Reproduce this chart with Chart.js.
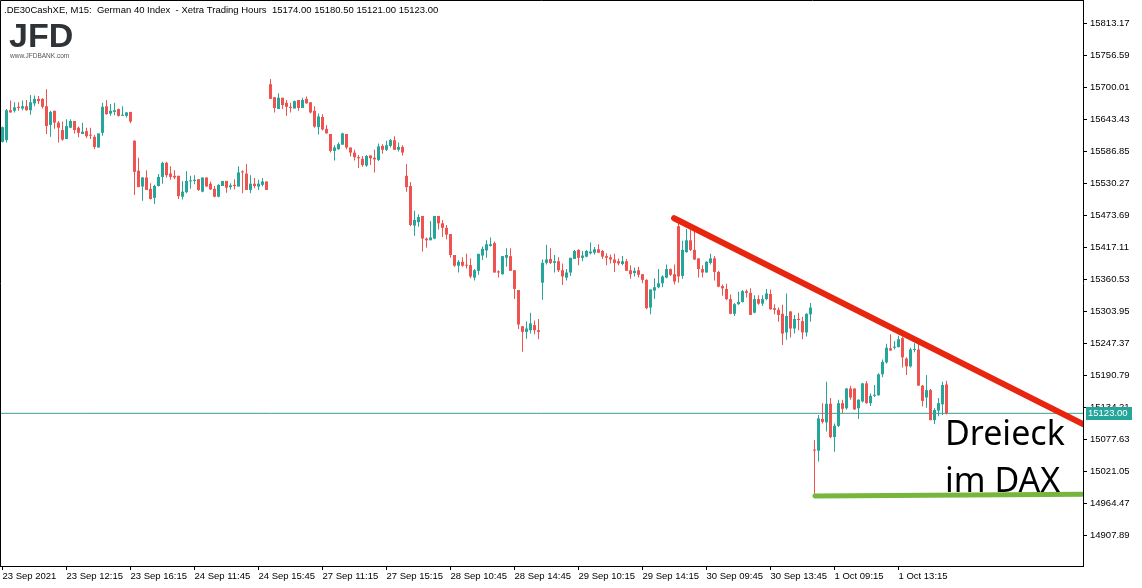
<!DOCTYPE html>
<html>
<head>
<meta charset="utf-8">
<title>DAX M15</title>
<script src="https://cdn.jsdelivr.net/npm/chart.js@4.4.0/dist/chart.umd.min.js"></script>
<style>
html, body { margin: 0; padding: 0; background: #fff; }
#chart { display: block; }
</style>
</head>
<body>
<canvas id="chart" width="1142" height="588"></canvas>
<script>
// DATA
const timeLabels = ['23 Sep 2021', '23 Sep 12:15', '23 Sep 16:15', '24 Sep 11:45', '24 Sep 15:45',
    '27 Sep 11:15', '27 Sep 15:15', '28 Sep 10:45', '28 Sep 14:45', '29 Sep 10:15',
    '29 Sep 14:15', '30 Sep 09:45', '30 Sep 13:45', '1 Oct 09:15', '1 Oct 13:15'];
const timeTickBars = [0, 16, 32, 48, 64, 80, 96, 112, 128, 144, 160, 176, 192, 208, 224];
const priceTicks = [15813.17, 15756.59, 15700.01, 15643.43, 15586.85, 15530.27, 15473.69, 15417.11,
    15360.53, 15303.95, 15247.37, 15190.79, 15134.21, 15077.63, 15021.05, 14964.47, 14907.89];

const opens = [
    15603, 15606, 15659, 15658, 15665, 15662, 15666, 15659, 15671, 15679, 15679, 15666, 15633, 15658, 15637, 15624,
    15608, 15628, 15640, 15628, 15617, 15622, 15615, 15612, 15593, 15619, 15666, 15653, 15656, 15661, 15649, 15649,
    15656, 15605, 15552, 15524, 15540, 15520, 15504, 15525, 15541, 15566, 15547, 15543, 15543, 15506, 15514, 15533,
    15534, 15537, 15515, 15540, 15529, 15520, 15506, 15525, 15534, 15523, 15527, 15524, 15550, 15547, 15518, 15529,
    15524, 15527, 15533, 15705, 15682, 15661, 15681, 15672, 15665, 15662, 15677, 15663, 15679, 15673, 15658, 15629,
    15647, 15626, 15617, 15587, 15590, 15598, 15617, 15593, 15584, 15576, 15573, 15561, 15579, 15575, 15571, 15596,
    15589, 15596, 15606, 15589, 15594, 15543, 15525, 15455, 15461, 15472, 15432, 15429, 15432, 15472, 15459, 15451,
    15440, 15403, 15384, 15391, 15385, 15385, 15363, 15375, 15402, 15411, 15419, 15424, 15374, 15369, 15398, 15401,
    15376, 15341, 15277, 15267, 15270, 15279, 15270, 15354, 15389, 15396, 15389, 15392, 15376, 15363, 15372, 15396,
    15412, 15398, 15400, 15406, 15407, 15413, 15410, 15401, 15399, 15395, 15392, 15387, 15392, 15376, 15371, 15376,
    15369, 15359, 15310, 15340, 15346, 15353, 15363, 15378, 15369, 15454, 15366, 15408, 15429, 15412, 15397, 15378,
    15372, 15389, 15397, 15373, 15348, 15343, 15325, 15299, 15316, 15320, 15339, 15336, 15301, 15325, 15317, 15325,
    15334, 15309, 15306, 15299, 15266, 15303, 15273, 15290, 15286, 15266, 15298, 15059, 15057, 15113, 15107, 15140,
    15081, 15101, 15141, 15132, 15167, 15167, 15132, 15144, 15176, 15141, 15154, 15155, 15192, 15213, 15238, 15239,
    15240, 15256, 15220, 15206, 15235, 15236, 15172, 15151, 15164, 15111, 15128, 15139, 15174];
const highs = [
    15630, 15661, 15676, 15673, 15673, 15676, 15677, 15686, 15685, 15684, 15680, 15696, 15658, 15658, 15640, 15639,
    15643, 15643, 15640, 15630, 15637, 15628, 15628, 15615, 15618, 15672, 15677, 15670, 15672, 15662, 15666, 15656,
    15656, 15606, 15575, 15541, 15553, 15530, 15527, 15546, 15568, 15568, 15560, 15553, 15543, 15534, 15551, 15543,
    15544, 15537, 15540, 15540, 15533, 15525, 15528, 15534, 15534, 15530, 15537, 15560, 15553, 15564, 15544, 15539,
    15536, 15539, 15533, 15714, 15682, 15689, 15681, 15677, 15672, 15676, 15677, 15681, 15683, 15673, 15666, 15653,
    15652, 15633, 15617, 15597, 15602, 15619, 15617, 15593, 15589, 15580, 15578, 15580, 15579, 15589, 15600, 15599,
    15605, 15608, 15613, 15602, 15597, 15564, 15532, 15481, 15475, 15472, 15434, 15463, 15472, 15472, 15465, 15456,
    15440, 15403, 15394, 15399, 15405, 15397, 15378, 15405, 15418, 15429, 15434, 15427, 15376, 15401, 15415, 15415,
    15376, 15341, 15277, 15286, 15301, 15287, 15290, 15395, 15421, 15415, 15403, 15399, 15388, 15378, 15398, 15412,
    15413, 15410, 15412, 15425, 15417, 15422, 15412, 15406, 15404, 15405, 15397, 15401, 15396, 15385, 15381, 15382,
    15369, 15360, 15342, 15362, 15378, 15367, 15386, 15379, 15386, 15459, 15428, 15449, 15447, 15444, 15397, 15385,
    15392, 15405, 15401, 15375, 15351, 15352, 15333, 15318, 15338, 15341, 15342, 15344, 15332, 15332, 15332, 15343,
    15342, 15316, 15310, 15315, 15335, 15304, 15297, 15301, 15294, 15300, 15318, 15076, 15120, 15141, 15179, 15150,
    15105, 15147, 15147, 15168, 15172, 15167, 15148, 15177, 15180, 15158, 15173, 15194, 15218, 15246, 15263, 15251,
    15260, 15259, 15222, 15239, 15247, 15246, 15173, 15191, 15166, 15132, 15150, 15179, 15180.5];
const lows = [
    15602, 15602, 15655, 15655, 15658, 15659, 15658, 15651, 15666, 15670, 15662, 15617, 15612, 15626, 15602, 15605,
    15608, 15627, 15618, 15611, 15617, 15610, 15608, 15590, 15593, 15614, 15651, 15649, 15650, 15648, 15649, 15646,
    15636, 15509, 15523, 15499, 15518, 15501, 15493, 15524, 15529, 15540, 15536, 15537, 15502, 15501, 15512, 15520,
    15528, 15516, 15514, 15524, 15518, 15505, 15505, 15525, 15513, 15519, 15519, 15524, 15512, 15518, 15512, 15521,
    15518, 15524, 15518, 15679, 15655, 15661, 15661, 15649, 15655, 15662, 15658, 15663, 15671, 15653, 15628, 15616,
    15623, 15618, 15584, 15570, 15589, 15598, 15590, 15577, 15570, 15557, 15559, 15559, 15562, 15549, 15569, 15582,
    15587, 15593, 15589, 15586, 15579, 15515, 15454, 15437, 15453, 15409, 15416, 15429, 15431, 15448, 15435, 15431,
    15398, 15382, 15372, 15382, 15379, 15362, 15358, 15368, 15394, 15398, 15418, 15372, 15363, 15368, 15382, 15375,
    15325, 15272, 15232, 15255, 15264, 15263, 15254, 15324, 15386, 15387, 15372, 15373, 15350, 15358, 15366, 15396,
    15385, 15392, 15399, 15404, 15404, 15407, 15396, 15385, 15388, 15373, 15385, 15385, 15375, 15361, 15365, 15363,
    15353, 15307, 15298, 15325, 15344, 15346, 15362, 15366, 15351, 15354, 15361, 15407, 15410, 15394, 15363, 15363,
    15372, 15386, 15358, 15346, 15331, 15323, 15298, 15295, 15315, 15319, 15328, 15297, 15300, 15315, 15313, 15323,
    15306, 15298, 15285, 15244, 15253, 15257, 15264, 15270, 15254, 15259, 15285, 14979, 15038, 15105, 15091, 15079,
    15055, 15099, 15123, 15130, 15147, 15129, 15113, 15142, 15140, 15136, 15152, 15154, 15187, 15211, 15234, 15236,
    15240, 15204, 15191, 15204, 15231, 15172, 15135, 15133, 15111, 15104, 15118, 15120, 15121];
const closes = [
    15629, 15659, 15655, 15664, 15663, 15666, 15659, 15673, 15679, 15675, 15665, 15631, 15656, 15637, 15628, 15607,
    15631, 15640, 15624, 15619, 15621, 15613, 15614, 15594, 15618, 15665, 15652, 15658, 15659, 15649, 15651, 15655,
    15639, 15550, 15523, 15540, 15518, 15502, 15525, 15541, 15566, 15544, 15541, 15540, 15507, 15515, 15534, 15534,
    15536, 15518, 15540, 15524, 15519, 15506, 15527, 15534, 15522, 15526, 15525, 15549, 15549, 15518, 15529, 15525,
    15529, 15533, 15518, 15679, 15663, 15681, 15668, 15665, 15663, 15675, 15663, 15677, 15671, 15655, 15630, 15648,
    15625, 15618, 15587, 15593, 15599, 15618, 15593, 15584, 15576, 15574, 15562, 15578, 15574, 15572, 15595, 15589,
    15597, 15606, 15589, 15594, 15584, 15523, 15456, 15465, 15470, 15432, 15429, 15434, 15472, 15459, 15451, 15439,
    15403, 15384, 15391, 15384, 15384, 15365, 15376, 15405, 15414, 15422, 15422, 15372, 15372, 15401, 15403, 15375,
    15343, 15280, 15267, 15273, 15282, 15270, 15267, 15389, 15395, 15389, 15392, 15376, 15365, 15372, 15398, 15410,
    15398, 15402, 15410, 15409, 15413, 15407, 15400, 15398, 15395, 15389, 15388, 15392, 15375, 15369, 15375, 15368,
    15359, 15309, 15342, 15346, 15353, 15365, 15378, 15368, 15356, 15365, 15412, 15429, 15412, 15395, 15378, 15372,
    15391, 15397, 15373, 15347, 15344, 15325, 15299, 15316, 15320, 15339, 15336, 15297, 15325, 15317, 15325, 15335,
    15307, 15306, 15297, 15264, 15295, 15273, 15290, 15288, 15266, 15299, 15310, 15057, 15114, 15108, 15140, 15081,
    15101, 15141, 15131, 15167, 15151, 15130, 15147, 15176, 15141, 15154, 15155, 15192, 15214, 15239, 15234, 15241,
    15254, 15222, 15206, 15236, 15236, 15172, 15145, 15164, 15111, 15129, 15141, 15173, 15123];

const lastPrice = 15123.00;
const headerText = '.DE30CashXE, M15:  German 40 Index  - Xetra Trading Hours  15174.00 15180.50 15121.00 15123.00';

// trend lines drawn on the chart (bar index, price)
const resistanceLine = [[167.9, 15468], [270.125, 15104]];
const supportLine = [[203.1, 14977], [270.125, 14980]];

// STYLE
const COLOR_UP = '#26a69a';
const COLOR_DOWN = '#ef5350';
const FONT = '"Liberation Sans", Arial, sans-serif';

const barIdx = opens.map((o, i) => i);
const candleColors = barIdx.map(i => closes[i] >= opens[i] ? COLOR_UP : COLOR_DOWN);

const wickData = barIdx.map(i => ({x: i, y: [lows[i], highs[i]]}));
const bodyData = barIdx.map(i => ({x: i, y: [opens[i], closes[i]]}));
const toPoints = arr => arr.map(p => ({x: p[0], y: p[1]}));

// plugin: frame, header, logo, annotation text, price label
const overlayPlugin = {
    id: 'overlay',
    afterDraw(chart) {
        const ctx = chart.ctx;
        const area = chart.chartArea;
        const yScale = chart.scales.y;
        ctx.save();

        // frame
        ctx.strokeStyle = '#000';
        ctx.lineWidth = 1;
        ctx.beginPath();
        ctx.moveTo(0.5, area.bottom);
        ctx.lineTo(0.5, 0.5);
        ctx.lineTo(area.right, 0.5);
        ctx.stroke();

        // header
        ctx.fillStyle = '#000';
        ctx.font = '9.5px ' + FONT;
        ctx.textBaseline = 'middle';
        ctx.textAlign = 'left';
        ctx.fillText(headerText, 4, 10);

        // logo
        ctx.fillStyle = '#2e3338';
        ctx.font = 'bold 34px ' + FONT;
        ctx.textBaseline = 'alphabetic';
        ctx.fillText('JFD', 9, 47);
        ctx.fillStyle = '#555';
        ctx.font = '6.5px ' + FONT;
        ctx.fillText('www.JFDBANK.com', 10, 58);

        // annotation
        ctx.fillStyle = '#000';
        ctx.font = '34px "Noto Sans", sans-serif';
        ctx.fillText('Dreieck', 945, 445);
        ctx.fillText('im DAX', 945, 492);

        // last price label
        const py = Math.round(yScale.getPixelForValue(lastPrice));
        ctx.fillStyle = COLOR_UP;
        ctx.fillRect(area.right + 3, py - 6, 46, 13);
        ctx.fillStyle = '#fff';
        ctx.font = '9.5px ' + FONT;
        ctx.textBaseline = 'middle';
        ctx.fillText(lastPrice.toFixed(2), area.right + 5, py + 0.5);
        ctx.restore();
    }
};

new Chart(document.querySelector('#chart'), {
    data: {
        datasets: [
            {
                type: 'line',
                data: [{x: -0.625, y: lastPrice}, {x: 270.125, y: lastPrice}],
                borderColor: '#3a9d95',
                borderWidth: 1,
                pointRadius: 0,
                clip: 0,
                order: 4
            },
            {
                type: 'bar',
                data: wickData,
                backgroundColor: candleColors,
                barThickness: 1,
                grouped: false,
                inflateAmount: 0,
                order: 3
            },
            {
                type: 'bar',
                data: bodyData,
                backgroundColor: candleColors,
                barThickness: 3,
                minBarLength: 1,
                grouped: false,
                inflateAmount: 0,
                order: 2
            },
            {
                type: 'line',
                data: toPoints(resistanceLine),
                borderColor: 'rgb(232,38,16)',
                borderWidth: 6,
                borderCapStyle: 'round',
                pointRadius: 0,
                clip: 0,
                order: 1
            },
            {
                type: 'line',
                data: toPoints(supportLine),
                borderColor: 'rgb(118,182,60)',
                borderWidth: 5,
                borderCapStyle: 'round',
                pointRadius: 0,
                clip: 0,
                order: 1
            }
        ]
    },
    options: {
        responsive: false,
        animation: false,
        devicePixelRatio: 1,
        layout: {padding: 0},
        plugins: {legend: {display: false}, tooltip: {enabled: false}},
        scales: {
            x: {
                type: 'linear',
                position: 'bottom',
                offset: false,
                min: -0.625,
                max: 270.125,
                afterBuildTicks: s => { s.ticks = timeTickBars.map(v => ({value: v})); },
                afterFit: s => { s.height = 22; s.paddingLeft = 0; s.paddingRight = 0; },
                grid: {drawOnChartArea: false, offset: false, tickLength: 4, color: '#000'},
                border: {color: '#000'},
                ticks: {
                    autoSkip: false,
                    maxRotation: 0,
                    align: 'start',
                    padding: 1,
                    color: '#000',
                    font: {family: FONT, size: 9.5},
                    callback: (v, i) => timeLabels[i]
                }
            },
            y: {
                type: 'linear',
                position: 'right',
                min: 14853.08,
                max: 15853.84,
                afterBuildTicks: s => { s.ticks = priceTicks.map(v => ({value: v})); },
                afterFit: s => { s.width = 59; s.paddingTop = 0; s.paddingBottom = 0; },
                grid: {drawOnChartArea: false, tickLength: 4, color: '#000'},
                border: {color: '#000'},
                ticks: {
                    autoSkip: false,
                    padding: 3,
                    color: '#000',
                    font: {family: FONT, size: 9.5},
                    callback: v => v.toFixed(2)
                }
            }
        }
    },
    plugins: [overlayPlugin]
});
</script>
</body>
</html>
